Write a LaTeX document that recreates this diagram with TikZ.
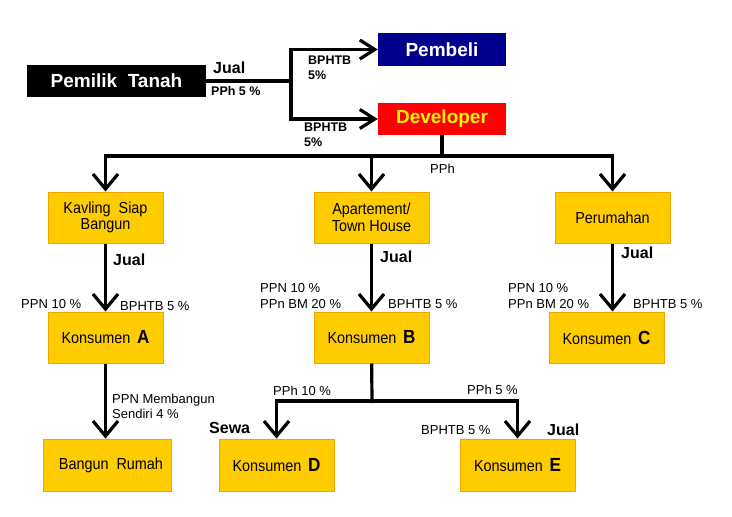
\documentclass[tikz,border=0pt]{standalone}
\usepackage{fontspec}
\setmainfont{Liberation Sans}
\newfontfamily\boxfont[FakeStretch=0.9]{Liberation Sans}
\usetikzlibrary{arrows.meta, positioning}
\definecolor{boxfill}{RGB}{255,204,0}
\definecolor{boxline}{RGB}{240,165,0}
\definecolor{navy}{RGB}{0,0,140}
\tikzset{
    x=1pt, y=-1pt,
    box/.style={rectangle, fill=boxfill, draw=boxline, line width=1pt,
        minimum width=115pt, minimum height=51pt, align=center,
        font=\boxfont\fontsize{16}{16.5}\selectfont},
    head/.style={rectangle, minimum width=128pt, minimum height=32pt,
        font=\fontsize{19}{21}\selectfont\bfseries},
    lbl/.style={inner sep=0pt, anchor=west, align=left,
        font=\fontsize{13}{16}\selectfont},
    blbl/.style={lbl, font=\fontsize{12.5}{15}\selectfont\bfseries},
    jual/.style={inner sep=0pt, anchor=west, font=\fontsize{16}{18}\selectfont\bfseries},
    link/.style={line width=3.2pt},
    arr/.style={link, -{Straight Barb[length=15pt, width=25pt]}},
    arrs/.style={link, -{Straight Barb[length=15pt, width=19pt]}}
}
\newcommand{\kons}[1]{Konsumen\ \,{\fontsize{19}{19}\selectfont\bfseries #1}}

\begin{document}
\begin{tikzpicture}
    \useasboundingbox (0,0) rectangle (732,517);
    % top level
    \node[head, fill=black, text=white, minimum width=179pt] (pemilik) at (116.5,81) {Pemilik\ \ Tanah};
    \node[head, fill=navy, text=white, minimum height=33pt] (pembeli) at (442,49.5) {Pembeli};
    \node[head, fill=red, text=yellow] (developer) at (442,119) {Developer};
    \coordinate (split) at (291,81);
    \coordinate (bus) at (442,156);

    % products
    \node[box] (kavling) at (105.5,217.5) {Kavling\ \ Siap\\Bangun};
    \node[box] (apartemen) at (371.5,217.5) {Apartement/\\Town House};
    \node[box] (perumahan) at (612.5,217.5) {Perumahan};

    % consumers
    \node[box] (konsA) at (105.5,337.5) {\kons{A}};
    \node[box] (konsB) at (371.5,337.5) {\kons{B}};
    \node[box] (konsC) at (606.5,337.5) {\kons{C}};
    \node[box, minimum width=128pt, minimum height=52pt] (rumah) at (107,465) {\hspace{8pt}Bangun\ \ Rumah};
    \node[box, minimum height=52pt] (konsD) at (276.5,465) {\kons{D}};
    \node[box, minimum height=52pt] (konsE) at (517.5,465) {\kons{E}};
    \coordinate (split2) at (372,401);

    % connectors
    \draw[link] (pemilik) -- (split);
    \draw[arrs] (split) |- (pembeli);
    \draw[arrs] (split) |- (developer);
    \draw[link] (developer) -- (bus);
    \draw[arr] (bus) -| (kavling);
    \draw[arr] (bus) -| (apartemen);
    \draw[arr] (bus) -| (perumahan);
    \draw[arr] (kavling) -- (konsA);
    \draw[arr] (apartemen) -- (konsB);
    \draw[arr] (perumahan) -- (perumahan |- konsC.north);
    \draw[arr] (konsA) -- (konsA |- rumah.north);
    \draw[link] (konsB) -- ([yshift=-2pt]split2);
    \draw[arr] (split2) -| (konsD);
    \draw[arr] (split2) -| (konsE);

    % labels
    \node[jual] (jual0) at (213,68) {Jual};
    \node[blbl] (pph0) at (211,91) {PPh 5 \%};
    \node[blbl] (bphtb1) at (308,67.5) {BPHTB\\5\%};
    \node[blbl] (bphtb2) at (304,135) {BPHTB\\5\%};
    \node[lbl] (pph1) at (430,169) {PPh};

    \node[jual] (jualA) at (113,260) {Jual};
    \node[lbl] (ppnA) at (21,304) {PPN 10 \%};
    \node[lbl] (bphtbA) at (120,306) {BPHTB 5 \%};

    \node[jual] (jualB) at (380,257) {Jual};
    \node[lbl] (ppnB) at (260,296) {PPN 10 \%\\PPn BM 20 \%};
    \node[lbl] (bphtbB) at (388,304) {BPHTB 5 \%};

    \node[jual] (jualC) at (621,253) {Jual};
    \node[lbl] (ppnC) at (508,296) {PPN 10 \%\\PPn BM 20 \%};
    \node[lbl] (bphtbC) at (633,304) {BPHTB 5 \%};

    \node[lbl, font=\fontsize{13}{15}\selectfont] (ppnR) at (112,406.5) {PPN Membangun\\Sendiri 4 \%};
    \node[lbl] (pphD) at (273,391) {PPh 10 \%};
    \node[jual] (sewa) at (209,428) {Sewa};
    \node[lbl] (pphE) at (467,390) {PPh 5 \%};
    \node[lbl] (bphtbE) at (421,430) {BPHTB 5 \%};
    \node[jual] (jualE) at (547,430) {Jual};
\end{tikzpicture}
\end{document}
